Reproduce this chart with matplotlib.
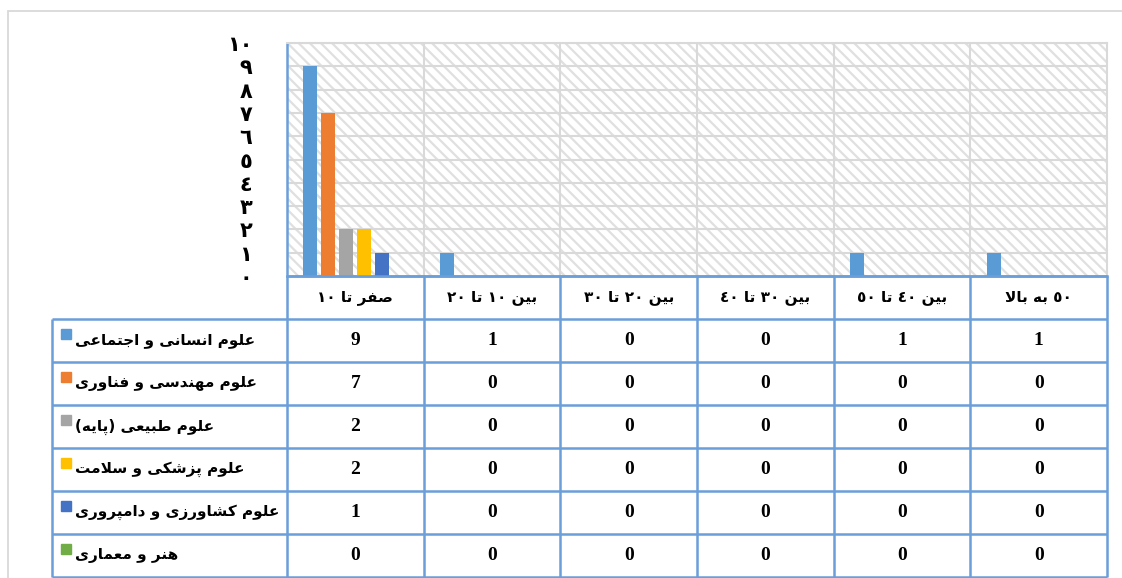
import re
import matplotlib
matplotlib.use("Agg")
import matplotlib.pyplot as plt
from matplotlib.patches import Rectangle

# گروه‌های سنی (ستون‌ها) و رشته‌ها (سری‌ها)
categories = ["صفر تا ١٠", "بین ١٠ تا ٢٠", "بین ٢٠ تا ٣٠",
              "بین ٣٠ تا ٤٠", "بین ٤٠ تا ٥٠", "٥٠ به بالا"]
series_names = ["علوم انسانی و اجتماعی", "علوم مهندسی و فناوری", "علوم طبیعی (پایه)",
                "علوم پزشکی و سلامت", "علوم کشاورزی و دامپروری", "هنر و معماری"]
humanities = [9, 1, 0, 0, 1, 1]
engineering = [7, 0, 0, 0, 0, 0]
basic_sci = [2, 0, 0, 0, 0, 0]
medical = [2, 0, 0, 0, 0, 0]
agriculture = [1, 0, 0, 0, 0, 0]
art = [0, 0, 0, 0, 0, 0]
values = [humanities, engineering, basic_sci, medical, agriculture, art]
colors = ["#5B9BD5", "#ED7D31", "#A5A5A5", "#FFC000", "#4472C4", "#70AD47"]

# --- شکل‌دهی ساده‌ی حروف عربی/فارسی (matplotlib خودش حروف را به هم نمی‌چسباند)
FORMS = {
    'ا': (0xFE8D, 0xFE8E, None, None), 'ب': (0xFE8F, 0xFE90, 0xFE91, 0xFE92),
    'پ': (0xFB56, 0xFB57, 0xFB58, 0xFB59), 'ت': (0xFE95, 0xFE96, 0xFE97, 0xFE98),
    'ج': (0xFE9D, 0xFE9E, 0xFE9F, 0xFEA0), 'د': (0xFEA9, 0xFEAA, None, None),
    'ر': (0xFEAD, 0xFEAE, None, None), 'ز': (0xFEAF, 0xFEB0, None, None),
    'س': (0xFEB1, 0xFEB2, 0xFEB3, 0xFEB4), 'ش': (0xFEB5, 0xFEB6, 0xFEB7, 0xFEB8),
    'ص': (0xFEB9, 0xFEBA, 0xFEBB, 0xFEBC), 'ط': (0xFEC1, 0xFEC2, 0xFEC3, 0xFEC4),
    'ع': (0xFEC9, 0xFECA, 0xFECB, 0xFECC), 'ف': (0xFED1, 0xFED2, 0xFED3, 0xFED4),
    'ک': (0xFB8E, 0xFB8F, 0xFB90, 0xFB91), 'ل': (0xFEDD, 0xFEDE, 0xFEDF, 0xFEE0),
    'م': (0xFEE1, 0xFEE2, 0xFEE3, 0xFEE4), 'ن': (0xFEE5, 0xFEE6, 0xFEE7, 0xFEE8),
    'ه': (0xFEE9, 0xFEEA, 0xFEEB, 0xFEEC), 'و': (0xFEED, 0xFEEE, None, None),
    'ی': (0xFBFC, 0xFBFD, 0xFBFE, 0xFBFF),
}


def shape(text):
    out = []
    i, n = 0, len(text)
    while i < n:
        c = text[i]
        if c not in FORMS:
            out.append(c)
            i += 1
            continue
        prev = text[i - 1] if i > 0 else ''
        p = prev in FORMS and FORMS[prev][2] is not None
        if c == 'ل' and i + 1 < n and text[i + 1] == 'ا':
            out.append(chr(0xFEFC if p else 0xFEFB))
            i += 2
            continue
        nxt = text[i + 1] if i + 1 < n else ''
        q = FORMS[c][2] is not None and nxt in FORMS
        iso, fin, ini, med = FORMS[c]
        out.append(chr(med if p and q else fin if p else ini if q else iso))
        i += 1
    return ''.join(out)


def rtl(text):
    s = shape(text)[::-1].translate({ord('('): ')', ord(')'): '('})
    return re.sub(r'[\u0660-\u0669]+', lambda m: m.group(0)[::-1], s)


def fa_digits(n):
    return str(n).translate({ord(d): chr(0x0660 + int(d)) for d in "0123456789"})


plt.rcParams['hatch.linewidth'] = 1.6
W, H = 1122, 578
fig = plt.figure(figsize=(W / 100, H / 100), dpi=100)

grid_c = "#D9D9D9"
line_c = "#6A9FD9"

# قاب بیرونی نمودار
fig.add_artist(Rectangle((8 / W, -0.05), 1.0, (H - 11) / H + 0.05, transform=fig.transFigure,
                         fill=False, ec=grid_c, lw=1.3))

# --- نمودار ستونی
ax = fig.add_axes([287 / W, 302 / H, 820 / W, 233 / H])
ax.set_xlim(0, 6)
ax.set_ylim(0, 10)
ax.add_patch(Rectangle((0, 0), 1, 1, transform=ax.transAxes, facecolor='none',
                       edgecolor='#E0E0E0', hatch='\\\\\\', lw=0, zorder=0))
for y in range(1, 11):
    ax.axhline(y, color=grid_c, lw=1.5, zorder=1)
for x in range(1, 6):
    ax.axvline(x, color=grid_c, lw=1.5, zorder=1)

step, width = 0.1317, 0.1024
for k, (vals, col) in enumerate(zip(values, colors)):
    xs = [i + 0.5 + (k - 2.5) * step for i in range(len(categories))]
    ax.bar(xs, vals, width=width, color=col, zorder=3)

ax.set_xticks([])
ax.set_yticks(range(11))
ax.set_yticklabels([fa_digits(v) for v in range(11)], fontsize=15, fontweight='bold',
                   family='DejaVu Sans')
ax.tick_params(axis='y', length=0, pad=25)
for s in ('top', 'right'):
    ax.spines[s].set_color(grid_c)
    ax.spines[s].set_linewidth(1.5)
for s in ('left', 'bottom'):
    ax.spines[s].set_color(line_c)
    ax.spines[s].set_linewidth(1.8)

# --- جدول داده‌ها زیر نمودار
label_w = 235 / (820 / 6)
tab = fig.add_axes([52 / W, 1 / H, 1055 / W, 301 / H])
tab.set_xlim(-label_w, 6)
tab.set_ylim(7, 0)
tab.axis('off')

tab.hlines(0, 0, 6, color=line_c, lw=1.8, clip_on=False)
tab.hlines(range(1, 8), -label_w, 6, color=line_c, lw=1.8, clip_on=False)
tab.vlines(-label_w, 1, 7, color=line_c, lw=1.8, clip_on=False)
tab.vlines(range(0, 7), 0, 7, color=line_c, lw=1.8, clip_on=False)

for j, cat in enumerate(categories):
    tab.text(j + 0.5, 0.5, rtl(cat), ha='center', va='center', fontsize=11,
             fontweight='bold', family='DejaVu Sans')

for r, (name, vals, col) in enumerate(zip(series_names, values, colors)):
    yc = r + 1.5
    tab.plot(-label_w + 14 / (820 / 6), yc - 0.16, marker='s', ms=7.2, color=col,
             clip_on=False)
    tab.text(-label_w + 23 / (820 / 6), yc, rtl(name), ha='left', va='center',
             fontsize=11, fontweight='bold', family='DejaVu Sans')
    for j, v in enumerate(vals):
        tab.text(j + 0.5, yc, str(v), ha='center', va='center', fontsize=14,
                 fontweight='bold', family='Liberation Serif')

fig.savefig("out.png", dpi=100)
